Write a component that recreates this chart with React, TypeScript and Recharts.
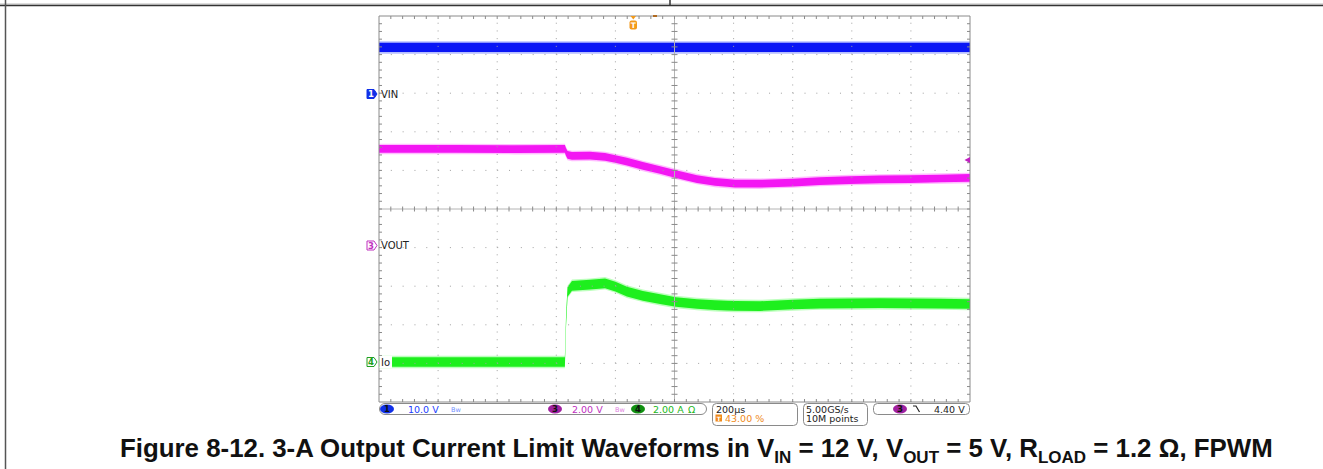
import React from 'react';
import { ComposedChart, Area, XAxis, YAxis, ReferenceLine } from 'recharts';

// Time (µs, relative to trigger) — 200 µs/div, trigger at 43 %
const TIME = [-860, -600, -400, -231, -227, -222, -207, -146, -95, -60, -21, 33, 91, 145, 216, 277, 318, 345, 430, 541, 632, 734, 835, 937, 1038, 1140];
// CH1 VIN (V), 10 V/div
const VIN = [11.85, 11.85, 11.85, 11.85, 11.85, 11.85, 11.85, 11.85, 11.85, 11.85, 11.85, 11.85, 11.85, 11.85, 11.85, 11.85, 11.85, 11.85, 11.85, 11.85, 11.85, 11.85, 11.85, 11.85, 11.85, 11.85];
// CH3 VOUT (V), 2 V/div
const VOUT = [5.11, 5.11, 5.1, 5.11, 4.95, 4.8, 4.75, 4.76, 4.7, 4.59, 4.46, 4.23, 4.02, 3.81, 3.55, 3.4, 3.35, 3.32, 3.31, 3.37, 3.45, 3.5, 3.53, 3.55, 3.58, 3.61];
// CH4 Io (A), 2 A/div
const IO = [0.07, 0.07, 0.07, 0.07, 2.2, 3.7, 4.02, 4.08, 4.15, 3.98, 3.72, 3.5, 3.33, 3.18, 3.08, 3.02, 2.99, 2.98, 2.97, 3.05, 3.1, 3.11, 3.12, 3.11, 3.1, 3.08];

// Graticule: vertical divisions (µs) and horizontal divisions (in CH3 volts, 2 V/div)
const X_DIVS = [-860, -660, -460, -260, -60, 140, 340, 540, 740, 940, 1140];
const Y_DIVS = [-8, -6, -4, -2, 0, 2, 4, 6, 8, 10, 12];
const X_CENTER = 140;
const Y_CENTER = 2;

// trace band half-thickness (noise envelope) per channel, in channel units
const VIN_NOISE = 1.2;
const VOUT_NOISE = 0.2;
const IO_NOISE = 0.25;

const data = TIME.map((t, i) => ({
  t,
  vin: [VIN[i] - VIN_NOISE, VIN[i] + VIN_NOISE],
  vinF: [VIN[i] - VIN_NOISE * 1.35, VIN[i] + VIN_NOISE * 1.35],
  vout: [VOUT[i] - VOUT_NOISE, VOUT[i] + VOUT_NOISE],
  voutF: [VOUT[i] - VOUT_NOISE * 1.35, VOUT[i] + VOUT_NOISE * 1.35],
  io: [IO[i] - IO_NOISE, IO[i] + IO_NOISE],
  ioF: [IO[i] - IO_NOISE * 1.3, IO[i] + IO_NOISE * 1.3],
}));

type TickSpec = { n: number; a: number; b: number } | null;

const makeLine = (color: string, dash: string | undefined, tick: TickSpec, tickColor: string) => (p: any) => {
  const x1 = Number(p.x1), y1 = Number(p.y1), x2 = Number(p.x2), y2 = Number(p.y2);
  const horiz = Math.abs(x2 - x1) > Math.abs(y2 - y1);
  const parts: any[] = [
    <line key="l" x1={x1} y1={y1} x2={x2} y2={y2} stroke={color} strokeWidth={1} strokeDasharray={dash} />,
  ];
  if (tick) {
    for (let k = 1; k < tick.n; k++) {
      const x = x1 + ((x2 - x1) * k) / tick.n;
      const y = y1 + ((y2 - y1) * k) / tick.n;
      parts.push(
        horiz ? (
          <line key={k} x1={x} x2={x} y1={y + tick.a} y2={y + tick.b} stroke={tickColor} strokeWidth={1} />
        ) : (
          <line key={k} y1={y} y2={y} x1={x + tick.a} x2={x + tick.b} stroke={tickColor} strokeWidth={1} />
        )
      );
    }
  }
  return <g>{parts}</g>;
};

const DOT = '#a0a0a0';
const BORDER = '#8a8a8a';

const marker = (x: number, y: number, fill: string, stroke: string, label: string, labelColor: string) => (
  <g>
    <path d={`M${x} ${y - 4.5} H${x + 7} L${x + 10} ${y} L${x + 7} ${y + 4.5} H${x} Z`} fill={fill} stroke={stroke} strokeWidth={1} />
    <text x={x + 4} y={y + 3.3} fontSize={8.5} fontFamily="DejaVu Sans" fill={labelColor} textAnchor="middle" fontWeight="bold">{label}</text>
  </g>
);

const pill = (cx: number, cy: number, fill: string, label: string) => (
  <g>
    <ellipse cx={cx} cy={cy} rx={7} ry={4.6} fill={fill} />
    <text x={cx} y={cy + 3.2} fontSize={8.5} fontFamily="DejaVu Sans" fill="#111" textAnchor="middle" fontWeight="bold">{label}</text>
  </g>
);

const Overlay = () => {
  const f = 'DejaVu Sans';
  return (
    <svg width={1323} height={469} style={{ position: 'absolute', left: 0, top: 0, pointerEvents: 'none' }}>
      {/* page frame */}
      <line x1={0} y1={4} x2={1323} y2={4} stroke="#bbbbbb" strokeWidth={1} />
      <line x1={0} y1={5.5} x2={1323} y2={5.5} stroke="#333" strokeWidth={1.5} />
      <line x1={5.5} y1={0} x2={5.5} y2={469} stroke="#555" strokeWidth={1.5} />
      <line x1={670} y1={0} x2={670} y2={5} stroke="#333" strokeWidth={1.5} />

      {/* channel markers and labels */}
      {marker(367, 94, '#1030e8', '#1030e8', '1', '#ffffff')}
      <text x={381} y={97.5} fontSize={10} fontFamily={f} fill="#222">VIN</text>
      {marker(367, 245.5, '#ffffff', '#c030c0', '3', '#c030c0')}
      <text x={381} y={249} fontSize={10} fontFamily={f} fill="#222">VOUT</text>
      <rect x={379.5} y={356} width={12.5} height={12} fill="#ffffff" />
      {marker(367, 362, '#ffffff', '#20a020', '4', '#20a020')}
      <text x={381} y={365.5} fontSize={10} fontFamily={f} fill="#222">Io</text>

      {/* trigger markers */}
      <path d="M630.5 16 L636 16 L633.3 19.5 Z" fill="#f39a1a" />
      <rect x={629.5} y={20.5} width={7.5} height={9} rx={2} fill="#f39a1a" />
      <text x={633.3} y={28.2} fontSize={7.5} fontFamily={f} fill="#fff" textAnchor="middle" fontWeight="bold">T</text>
      <rect x={653} y={15} width={4} height={2} fill="#b06a20" />
      <path d="M964.5 160 L970 157 L970 163 Z" fill="#c020c0" />

      {/* status bar */}
      <rect x={379.5} y={403.5} width={327} height={11} rx={5.5} fill="#fff" stroke="#8a8a8a" />
      {pill(387, 409, '#1030e8', '1')}
      <text x={408} y={412.6} fontSize={9.5} fontFamily={f} fill="#2040ff">10.0 V</text>
      <text x={451} y={411.5} fontSize={6.5} fontFamily={f} fill="#7090ff">Bw</text>
      {pill(555, 409, '#a020a0', '3')}
      <text x={572} y={412.6} fontSize={9.5} fontFamily={f} fill="#c030c0">2.00 V</text>
      <text x={615} y={411.5} fontSize={6.5} fontFamily={f} fill="#e080e0">Bw</text>
      {pill(638, 409, '#109010', '4')}
      <text x={653} y={412.6} fontSize={9.5} fontFamily={f} fill="#20b820">2.00 A</text>
      <text x={688} y={412.6} fontSize={9.5} fontFamily={f} fill="#20b820">Ω</text>

      <rect x={712.5} y={403.5} width={85} height={22} rx={4} fill="#fff" stroke="#8a8a8a" />
      <text x={716} y={412.6} fontSize={9.5} fontFamily={f} fill="#222">200µs</text>
      <rect x={715.5} y={414.5} width={6.5} height={7} fill="#f08a1a" />
      <text x={718.7} y={420.6} fontSize={6} fontFamily={f} fill="#fff" textAnchor="middle" fontWeight="bold">T</text>
      <text x={725} y={421.8} fontSize={9.5} fontFamily={f} fill="#f08a1a">43.00 %</text>

      <rect x={803.5} y={403.5} width={64} height={22} rx={4} fill="#fff" stroke="#8a8a8a" />
      <text x={806} y={412.6} fontSize={9.5} fontFamily={f} fill="#222">5.00GS/s</text>
      <text x={806} y={421.8} fontSize={9.5} fontFamily={f} fill="#222">10M points</text>

      <rect x={873.5} y={403.5} width={96} height={11} rx={4} fill="#fff" stroke="#8a8a8a" />
      {pill(900, 409, '#a020a0', '3')}
      <path d="M913 406 H916 L919.5 412" fill="none" stroke="#222" strokeWidth={1.2} />
      <text x={934} y={412.6} fontSize={9.5} fontFamily={f} fill="#222">4.40 V</text>
    </svg>
  );
};

export default function App() {
  const ax = { xAxisId: 't', yAxisId: 'v3' };
  return (
    <div style={{ position: 'absolute', left: 0, top: 0, width: 1323, height: 469, background: '#fff', overflow: 'hidden' }}>
      <ComposedChart width={1323} height={469} data={data} margin={{ top: 16, right: 353, bottom: 67, left: 379 }}>
        <XAxis xAxisId="t" dataKey="t" type="number" domain={[-860, 1140]} hide />
        <YAxis yAxisId="v1" type="number" domain={[-80, 20]} hide />
        <YAxis yAxisId="v3" type="number" domain={[-8, 12]} hide />
        <YAxis yAxisId="i4" type="number" domain={[-2, 18]} hide />

        {X_DIVS.slice(1, -1).filter((x) => x !== X_CENTER).map((x) => (
          <ReferenceLine key={'vx' + x} x={x} {...ax} stroke={DOT} strokeDasharray="1 6.72" shape={makeLine(DOT, '1 6.72', null, DOT)} />
        ))}
        {Y_DIVS.slice(1, -1).filter((y) => y !== Y_CENTER).map((y) => (
          <ReferenceLine key={'hy' + y} y={y} {...ax} stroke={DOT} strokeDasharray="1 10.82" shape={makeLine(DOT, '1 10.82', null, DOT)} />
        ))}
        <ReferenceLine x={X_CENTER} {...ax} stroke="#b4b4b4" shape={makeLine('#b4b4b4', undefined, { n: 50, a: -3, b: 3 }, '#8a8a8a')} />
        <ReferenceLine y={Y_CENTER} {...ax} stroke="#b4b4b4" shape={makeLine('#b4b4b4', undefined, { n: 50, a: -2.5, b: 2.5 }, '#8a8a8a')} />

        <Area xAxisId="t" yAxisId="v1" dataKey="vinF" type="linear" stroke="none" fill="#3048ff" fillOpacity={0.35} isAnimationActive={false} />
        <Area xAxisId="t" yAxisId="v1" dataKey="vin" type="linear" stroke="none" fill="#0a16f5" fillOpacity={1} isAnimationActive={false} />
        <Area xAxisId="t" yAxisId="v3" dataKey="voutF" type="linear" stroke="none" fill="#ff40ff" fillOpacity={0.35} isAnimationActive={false} />
        <Area xAxisId="t" yAxisId="v3" dataKey="vout" type="linear" stroke="none" fill="#f316f3" fillOpacity={1} isAnimationActive={false} />
        <Area xAxisId="t" yAxisId="i4" dataKey="ioF" type="linear" stroke="none" fill="#40ff40" fillOpacity={0.35} isAnimationActive={false} />
        <Area xAxisId="t" yAxisId="i4" dataKey="io" type="linear" stroke="none" fill="#1eef1e" fillOpacity={1} isAnimationActive={false} />

        <ReferenceLine y={Y_DIVS[10]} {...ax} stroke={BORDER} shape={makeLine(BORDER, undefined, { n: 50, a: 0, b: 3 }, BORDER)} />
        <ReferenceLine y={Y_DIVS[0]} {...ax} stroke={BORDER} shape={makeLine(BORDER, undefined, { n: 50, a: -3, b: 0 }, BORDER)} />
        <ReferenceLine x={X_DIVS[0]} {...ax} stroke={BORDER} shape={makeLine(BORDER, undefined, { n: 50, a: 0, b: 3 }, BORDER)} />
        <ReferenceLine x={X_DIVS[10]} {...ax} stroke={BORDER} shape={makeLine(BORDER, undefined, { n: 50, a: -3, b: 0 }, BORDER)} />
      </ComposedChart>
      <Overlay />
      <div
        style={{
          position: 'absolute',
          left: 120,
          top: 433,
          whiteSpace: 'nowrap',
          fontFamily: '"Liberation Sans", Arial, sans-serif',
          fontWeight: 'bold',
          fontSize: 25.85,
          color: '#111',
          lineHeight: '30px',
        }}
      >
        Figure 8-12. 3-A Output Current Limit Waveforms in V
        <sub style={{ fontSize: 17, verticalAlign: -6, lineHeight: 0 }}>IN</sub> = 12 V, V
        <sub style={{ fontSize: 17, verticalAlign: -6, lineHeight: 0 }}>OUT</sub> = 5 V, R
        <sub style={{ fontSize: 17, verticalAlign: -6, lineHeight: 0 }}>LOAD</sub> = 1.2 Ω, FPWM
      </div>
    </div>
  );
}
